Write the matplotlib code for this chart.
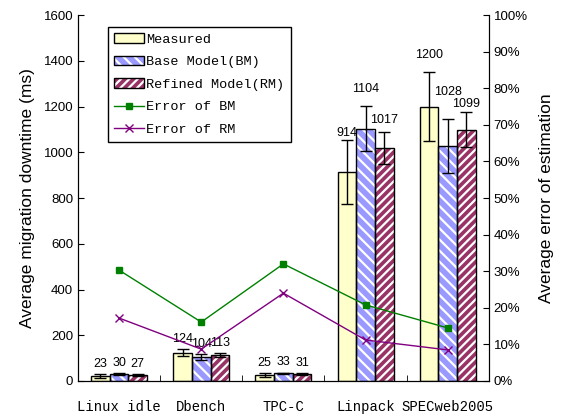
import numpy as np
import matplotlib
matplotlib.use("Agg")
import matplotlib.pyplot as plt
from matplotlib.patches import Patch

categories = ["Linux idle", "Dbench", "TPC-C", "Linpack", "SPECweb2005"]
measured = [23, 124, 25, 914, 1200]
base_model = [30, 104, 33, 1104, 1028]
refined_model = [27, 113, 31, 1017, 1099]
measured_err = [8, 15, 9, 140, 150]
base_err = [5, 12, 4, 100, 118]
refined_err = [4, 8, 4, 70, 76]
error_bm = [30.3, 16.1, 32.0, 20.8, 14.5]
error_rm = [17.2, 8.7, 24.0, 11.2, 8.5]

sans = "Liberation Sans"
mono = "Liberation Mono"
plt.rcParams["hatch.linewidth"] = 1.6

fig = plt.figure(figsize=(5.71, 4.2), dpi=100)
ax = fig.add_axes([0.1366, 0.0929, 0.7194, 0.8711])
x = np.arange(len(categories))
w = 0.227

# label nudges (series, category) in data units, to sit like the original
nudge = {(0, 3): -15, (1, 3): 27, (2, 3): 9, (0, 4): 29, (1, 4): 72,
         (2, 4): -9}

series = [
    (measured, measured_err, "#FFFFCC", None, "Measured", -w),
    (base_model, base_err, "#9999FF", "\\\\\\", "Base Model(BM)", 0),
    (refined_model, refined_err, "#993366", "////", "Refined Model(RM)", w),
]
proxies = []
for si, (vals, errs, col, hatch, lab, off) in enumerate(series):
    ax.bar(x + off, vals, w, color=col, hatch=hatch, edgecolor="white",
           linewidth=0, zorder=2)
    ax.bar(x + off, vals, w, edgecolor="black", linewidth=1, fill=False,
           zorder=3)
    ax.errorbar(x + off, vals, yerr=errs, fmt="none", ecolor="black",
                elinewidth=1, capsize=4, capthick=1, zorder=4)
    for i, (xi, v, e) in enumerate(zip(x + off, vals, errs)):
        dy = 45 + nudge.get((si, i), 0)
        ax.text(xi, v + e + dy, str(v), ha="center", va="center",
                fontsize=9, family=sans)
    proxies.append((Patch(facecolor=col, edgecolor="white", hatch=hatch,
                          linewidth=0),
                    Patch(fill=False, edgecolor="black", linewidth=1)))

ax.set_xlim(-0.5, 4.5)
ax.set_ylim(0, 1600)
ax.set_yticks(range(0, 1601, 200))
ax.set_xticks(x)
ax.set_xticklabels(categories, fontsize=10, family=mono)
ax.set_xticks(np.arange(-0.5, 4.6, 1), minor=True)
ax.tick_params(axis="x", which="major", length=0, pad=14)
ax.tick_params(axis="x", which="minor", direction="in", length=4)
ax.tick_params(axis="y", direction="in", length=4, labelsize=9.5)
for t in ax.get_yticklabels():
    t.set_family(sans)
ax.set_ylabel("Average migration downtime (ms)", fontsize=12.5, family=sans,
              labelpad=6)
ax.spines["top"].set_visible(False)

ax2 = ax.twinx()
ax2.set_ylim(0, 100)
ax2.set_yticks(range(0, 101, 10))
ax2.set_yticklabels([f"{v}%" for v in range(0, 101, 10)], family=sans)
ax2.tick_params(axis="y", direction="in", length=4, labelsize=9.5)
ax2.spines["top"].set_visible(False)
ax2.set_ylabel("Average error of estimation", fontsize=12.5, family=sans,
               labelpad=8)
l1, = ax2.plot(x, error_bm, color="#008000", marker="s", markersize=5,
               linewidth=1)
l2, = ax2.plot(x, error_rm, color="#800080", marker="x", markersize=6,
               linewidth=1)

labels = [s[4] for s in series] + ["Error of BM", "Error of RM"]
leg = ax2.legend(handles=proxies + [l1, l2], labels=labels, loc="upper left",
                 bbox_to_anchor=(0.073, 0.967), frameon=True, fancybox=False,
                 edgecolor="black", framealpha=1,
                 prop={"family": mono, "size": 9.7}, handlelength=2.2,
                 handletextpad=0.2, borderpad=0.45, labelspacing=0.75,
                 borderaxespad=0)
leg.get_frame().set_linewidth(1)

fig.savefig("out.png", dpi=100)
